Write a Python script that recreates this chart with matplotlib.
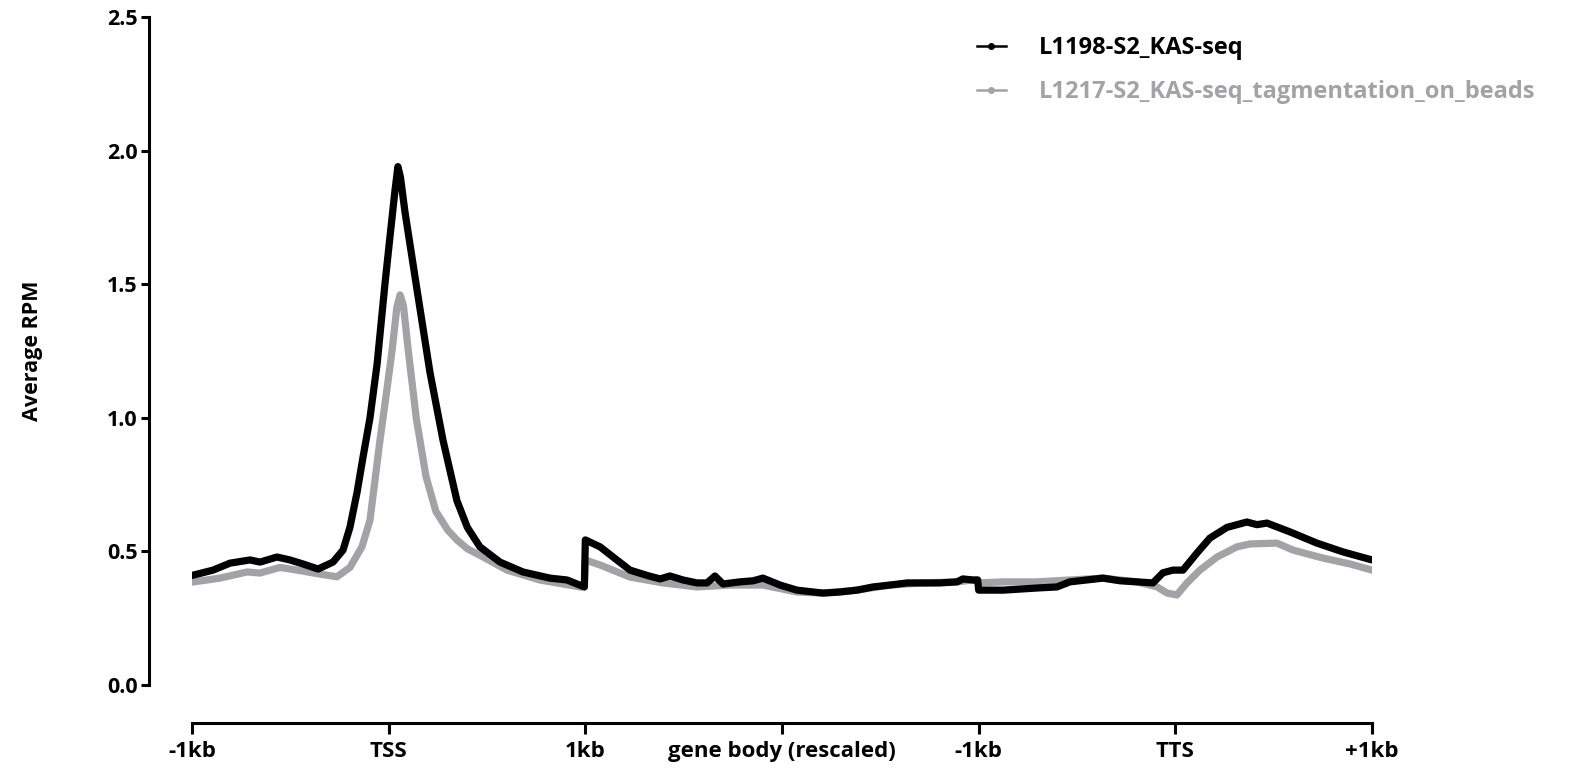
import matplotlib
matplotlib.use('Agg')
import matplotlib.pyplot as plt
from matplotlib.lines import Line2D

# x positions in region units: 0=-1kb, 1=TSS, 2=1kb, 3=gene body, 4=-1kb, 5=TTS, 6=+1kb
tick_pos = [0, 1, 2, 3, 4, 5, 6]
tick_labels = ['-1kb', 'TSS', '1kb', 'gene body (rescaled)', '-1kb', 'TTS', '+1kb']

kas_x = [0.0, 0.107, 0.193, 0.295, 0.346, 0.432, 0.498, 0.564, 0.641, 0.717,
         0.768, 0.803, 0.839, 0.869, 0.905, 0.941, 0.981, 1.007, 1.032, 1.047,
         1.060, 1.083, 1.144, 1.210, 1.276, 1.347, 1.400, 1.464, 1.566, 1.683,
         1.820, 1.907, 1.995, 2.0, 2.075, 2.141, 2.227, 2.314, 2.380, 2.430,
         2.497, 2.568, 2.619, 2.659, 2.700, 2.786, 2.853, 2.903, 2.990, 3.076,
         3.208, 3.295, 3.381, 3.463, 3.549, 3.636, 3.717, 3.803, 3.890, 3.920,
         3.971, 3.995, 4.0, 4.124, 4.297, 4.398, 4.464, 4.632, 4.719, 4.805,
         4.886, 4.937, 4.988, 5.039, 5.110, 5.176, 5.263, 5.364, 5.415, 5.466,
         5.583, 5.720, 5.853, 6.0]
kas_y = [0.410, 0.430, 0.456, 0.468, 0.460, 0.479, 0.468, 0.453, 0.434, 0.460,
         0.505, 0.590, 0.720, 0.850, 1.000, 1.200, 1.500, 1.680, 1.850, 1.940,
         1.900, 1.770, 1.480, 1.170, 0.917, 0.690, 0.590, 0.517, 0.460, 0.423,
         0.400, 0.393, 0.367, 0.543, 0.517, 0.479, 0.430, 0.410, 0.397, 0.408,
         0.393, 0.382, 0.382, 0.408, 0.378, 0.386, 0.390, 0.400, 0.374, 0.355,
         0.344, 0.348, 0.355, 0.367, 0.374, 0.382, 0.382, 0.382, 0.386, 0.397,
         0.393, 0.393, 0.355, 0.355, 0.363, 0.367, 0.386, 0.400, 0.390, 0.386,
         0.382, 0.420, 0.430, 0.430, 0.494, 0.550, 0.590, 0.610, 0.600, 0.606,
         0.573, 0.531, 0.498, 0.468]

beads_x = [0.0, 0.142, 0.280, 0.346, 0.447, 0.534, 0.651, 0.737, 0.803, 0.864,
           0.905, 0.956, 0.990, 1.017, 1.042, 1.058, 1.075, 1.100, 1.140, 1.190,
           1.240, 1.300, 1.347, 1.400, 1.480, 1.602, 1.769, 1.973, 1.995, 2.0,
           2.075, 2.227, 2.395, 2.568, 2.736, 2.903, 3.076, 3.208, 3.381, 3.549,
           3.717, 3.890, 3.971, 3.995, 4.0, 4.124, 4.297, 4.464, 4.632, 4.805,
           4.907, 4.958, 5.008, 5.059, 5.125, 5.212, 5.313, 5.380, 5.517, 5.598,
           5.751, 5.888, 6.0]
beads_y = [0.385, 0.400, 0.423, 0.419, 0.440, 0.430, 0.415, 0.405, 0.440, 0.517,
           0.617, 0.917, 1.100, 1.250, 1.415, 1.460, 1.420, 1.250, 1.000, 0.780,
           0.650, 0.580, 0.543, 0.510, 0.479, 0.430, 0.393, 0.367, 0.367, 0.468,
           0.449, 0.404, 0.382, 0.367, 0.374, 0.374, 0.348, 0.344, 0.355, 0.374,
           0.382, 0.386, 0.393, 0.393, 0.382, 0.386, 0.386, 0.393, 0.400, 0.386,
           0.367, 0.344, 0.337, 0.382, 0.430, 0.479, 0.517, 0.528, 0.531, 0.505,
           0.475, 0.453, 0.430]

series_names = ['L1198-S2_KAS-seq', 'L1217-S2_KAS-seq_tagmentation_on_beads']
black = '#000000'
grey = '#a3a3a6'

plt.rcParams['font.family'] = ['Open Sans', 'DejaVu Sans']
plt.rcParams['font.weight'] = 'bold'

fig = plt.figure(figsize=(15.79, 7.74), dpi=100)
ax = fig.add_axes([192 / 1579, 89 / 774, 1180 / 1579, 668 / 774])

ax.plot(beads_x, beads_y, color=grey, linewidth=5.2,
        solid_joinstyle='round', solid_capstyle='round')
ax.plot(kas_x, kas_y, color=black, linewidth=5.2,
        solid_joinstyle='round', solid_capstyle='round')

ax.set_xlim(0, 6)
ax.set_ylim(0, 2.5)
ax.set_xticks(tick_pos)
ax.set_xticklabels(tick_labels)
ax.set_yticks([0, 0.5, 1.0, 1.5, 2.0, 2.5])
ax.set_yticklabels(['0.0', '0.5', '1.0', '1.5', '2.0', '2.5'])

for s in ['top', 'right']:
    ax.spines[s].set_visible(False)
ax.spines['left'].set_position(('outward', 31))
ax.spines['bottom'].set_position(('outward', 27.5))
for s in ['left', 'bottom']:
    ax.spines[s].set_linewidth(2.2)
ax.tick_params(axis='y', length=6, width=2.2, pad=2, labelsize=15.5)
ax.tick_params(axis='x', length=8, width=2.2, pad=5, labelsize=16)
for lab in ax.get_xticklabels() + ax.get_yticklabels():
    lab.set_fontweight('bold')

ax.set_ylabel('Average RPM', fontsize=15.5, fontweight='bold', labelpad=46)

handles = [Line2D([], [], color=black, linewidth=1.8, marker='o', markersize=4),
           Line2D([], [], color=grey, linewidth=1.8, marker='o', markersize=4)]
leg = fig.legend(handles, series_names, loc='upper left',
                 bbox_to_anchor=(956 / 1579, 1 - 15 / 774), frameon=False,
                 handlelength=1.2, handletextpad=1.4, labelspacing=0.85,
                 prop={'weight': 'bold', 'size': 17})
for txt, c in zip(leg.get_texts(), [black, grey]):
    txt.set_color(c)

fig.savefig('out.png', dpi=100)
